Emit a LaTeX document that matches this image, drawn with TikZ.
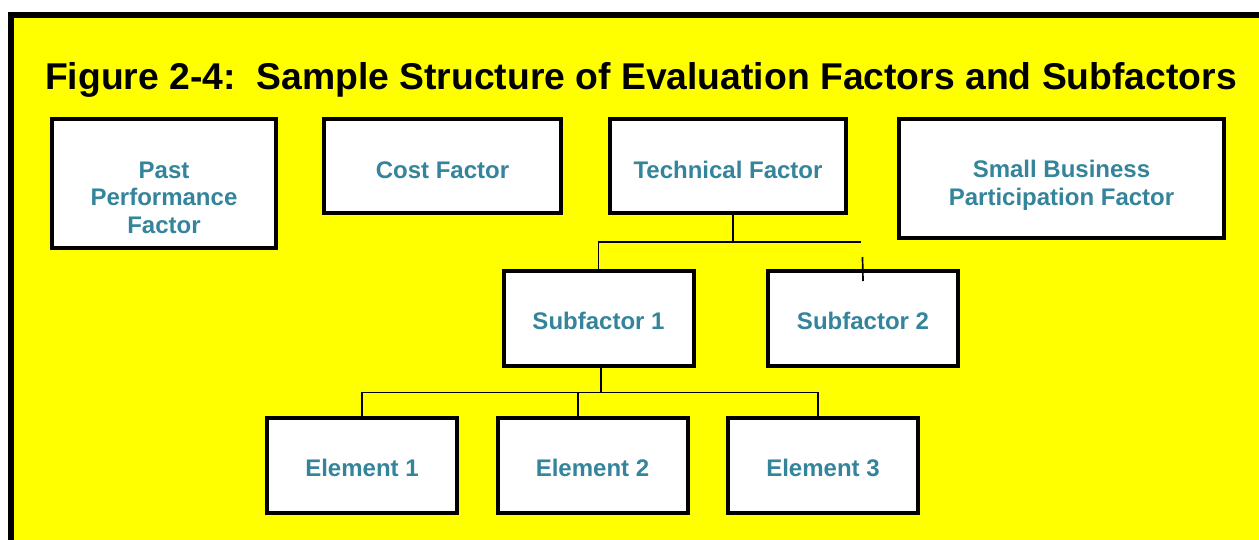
\documentclass[tikz,border=0pt]{standalone}
\usepackage{fontspec}
\setmainfont{Liberation Sans}
\usepackage{xcolor}
\usepackage{tikz}
\usetikzlibrary{positioning}
\definecolor{factortext}{RGB}{52,132,155}
\definecolor{sheet}{RGB}{255,255,0}
\tikzstyle{factor} = [rectangle, draw=black, line width=4pt, fill=white, text=factortext, font=\fontsize{24}{27.5}\selectfont\bfseries, align=center, inner sep=0pt, minimum width=190pt, minimum height=95pt]
\tikzstyle{link} = [line width=1.7pt, draw=black]

\begin{document}
\begin{tikzpicture}[x=1pt, y=-1pt]

        % Rahmen
        \useasboundingbox (0,0) rectangle (1259,539);
        \fill [white] (0,0) rectangle (1259,539);
        \draw [line width=6pt, fill=sheet] (10.5,14.7) rectangle (1300,580);

        % Titel
        \node (title) [anchor=base, font=\fontsize{37.3}{44}\selectfont\bfseries] at (641,89) {Figure 2-4:\ \ Sample Structure of Evaluation Factors and Subfactors};

        % Faktoren
        \node (past) [factor, minimum width=224pt, minimum height=129pt] at (164,183.5) {\rule{0pt}{45pt}Past\\Performance\\Factor};
        \node (cost) [factor, minimum width=237pt, minimum height=94pt] at (442.5,166) {\rule{0pt}{26pt}Cost Factor};
        \node (tech) [factor, minimum width=236pt, minimum height=94pt] at (728,166) {\rule{0pt}{26pt}Technical Factor};
        \node (small) [factor, minimum width=325pt, minimum height=119pt] at (1061.5,178.5) {\rule{0pt}{30.5pt}Small Business\\Participation Factor};

        % Unterfaktoren und Elemente
        \node (sub1) [factor] at (598.5,318.5) {\rule{0pt}{22.5pt}Subfactor 1};
        \node (sub2) [factor] at (863,318.5) {\rule{0pt}{22.5pt}Subfactor 2};
        \node (el1) [factor] at (362,465.5) {\rule{0pt}{22.5pt}Element 1};
        \node (el2) [factor, right=36.5pt of el1] {\rule{0pt}{22.5pt}Element 2};
        \node (el3) [factor, right=36.5pt of el2] {\rule{0pt}{22.5pt}Element 3};

        % Verbindungen
        \coordinate (tbar) at (861,242);
        \coordinate (tick) at (862.5,257);
        \coordinate (ebar) at (600,392.5);
        \draw [link] ([xshift=5pt]tech.south) -- ([xshift=5pt]tech.south |- tbar);
        \draw [link] (sub1.north) |- (tbar);
        \draw [link] (tick) -- ([yshift=-12pt]sub2.north);
        \draw [link] ([xshift=2.5pt]sub1.south) -- ([xshift=2.5pt]sub1.south |- ebar);
        \draw [link] (el1.north) |- ([xshift=-5pt]el3.north |- ebar) -- ([xshift=-5pt]el3.north);
        \draw [link] ([xshift=-14.5pt]el2.north |- ebar) -- ([xshift=-14.5pt]el2.north);

    \end{tikzpicture}
\end{document}
